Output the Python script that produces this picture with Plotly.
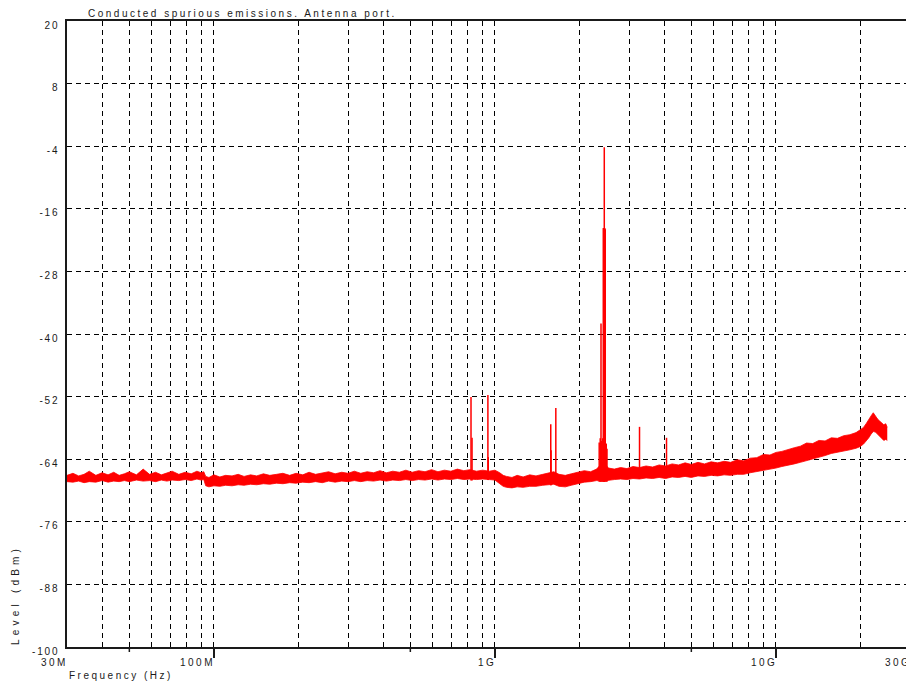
import numpy as np
import plotly.graph_objects as go

# ---------------- data ----------------
chart_title = "Conducted spurious emissions. Antenna port."
x_axis_title = "Frequency (Hz)"
y_axis_title = "Level (dBm)"

# broadband noise floor of the sweep: frequency (MHz), upper and lower edge of the trace (dBm)
base_freq_mhz = [
    30, 31.5, 33, 34.5, 36, 38, 40, 42, 44, 46,
    48, 50, 53, 56, 59, 62, 65, 68, 71, 75,
    79, 83, 87, 90, 92, 93.5, 96, 100, 105, 110,
    116, 122, 128, 135, 142, 150, 158, 167, 176, 186,
    196, 207, 218, 230, 243, 256, 270, 285, 300, 316,
    333, 351, 370, 390, 411, 433, 457, 482, 508, 535,
    564, 595, 627, 661, 697, 735, 775, 815, 860, 905,
    955, 1000, 1040, 1070, 1100, 1150, 1200, 1260, 1330, 1400,
    1480, 1560, 1620, 1690, 1780, 1870, 1970, 2080, 2190, 2300,
    2420, 2540, 2660, 2800, 2950, 3100, 3270, 3450, 3640, 3840,
    4050, 4270, 4500, 4750, 5000, 5280, 5570, 5880, 6200, 6540,
    6900, 7280, 7680, 8100, 8550, 9020, 9520, 10000, 10500, 11050,
    11620, 12220, 12850, 13520, 14220, 14960, 15740, 16560, 17420, 18330,
    19280, 19900, 20500, 21000, 21400, 21800, 22200, 22600, 23000, 23400,
    23800, 24200, 24600, 24900,
]
base_upper_dbm = [
    -67.1, -66.7, -67.2, -66.9, -66.3, -67.1, -66.6, -67.0, -66.5, -67.1,
    -66.8, -66.4, -67.0, -65.9, -66.9, -66.5, -67.0, -66.6, -66.3, -66.9,
    -66.5, -66.8, -66.3, -66.6, -66.4, -67.3, -67.5, -67.0, -67.4, -67.1,
    -67.2, -66.9, -67.3, -67.0, -67.2, -66.8, -67.1, -66.9, -66.7, -67.1,
    -66.7, -67.0, -66.5, -66.9, -66.6, -66.4, -66.8, -66.5, -66.7, -66.3,
    -66.7, -66.4, -66.6, -66.2, -66.6, -66.3, -66.5, -66.1, -66.5, -66.2,
    -66.4, -66.0, -66.4, -66.1, -66.3, -65.9, -66.2, -66.0, -66.3, -66.1,
    -66.3, -66.1, -66.6, -67.1, -67.3, -67.5, -67.1, -67.4, -67.0, -67.2,
    -66.9, -66.6, -66.4, -66.9, -67.1, -66.8, -66.5, -66.2, -66.4, -65.9,
    -64.6, -65.7, -65.9, -65.6, -65.8, -65.4, -65.6, -65.3, -65.5, -65.1,
    -65.3, -64.9, -65.1, -64.7, -65.0, -64.6, -64.9, -64.5, -64.7, -64.4,
    -64.6, -64.1, -64.3, -63.8, -63.7, -63.1, -63.2, -62.7, -62.5, -62.1,
    -61.8, -61.5, -60.9, -61.0, -60.4, -60.5, -59.9, -60.0, -59.5, -59.3,
    -58.9, -58.4, -57.9, -57.1, -56.3, -55.7, -55.1, -55.8, -56.3, -56.7,
    -57.0, -57.4, -57.2, -57.9,
]
base_lower_dbm = [
    -68.3, -68.4, -68.2, -68.5, -68.3, -68.4, -68.1, -68.4, -68.2, -68.3,
    -68.1, -68.3, -68.0, -68.2, -68.1, -68.3, -68.0, -68.2, -68.0, -68.1,
    -67.9, -68.1, -67.8, -68.0, -67.9, -69.1, -69.3, -69.1, -69.2, -69.0,
    -69.1, -68.9, -69.0, -68.8, -68.9, -68.7, -68.8, -68.6, -68.7, -68.5,
    -68.6, -68.4, -68.5, -68.3, -68.5, -68.2, -68.4, -68.2, -68.3, -68.1,
    -68.3, -68.1, -68.2, -68.0, -68.2, -68.0, -68.1, -67.9, -68.1, -67.9,
    -68.0, -67.8, -68.0, -67.8, -67.9, -67.7, -67.9, -67.8, -67.9, -67.8,
    -67.9, -68.0, -68.7, -69.2, -69.4, -69.5, -69.3, -69.4, -69.2, -69.2,
    -69.0, -68.9, -68.8, -69.2, -69.3, -69.0, -68.7, -68.4, -68.3, -68.1,
    -68.2, -68.0, -67.9, -67.8, -67.9, -67.7, -67.8, -67.6, -67.7, -67.5,
    -67.7, -67.4, -67.5, -67.3, -67.5, -67.2, -67.3, -67.1, -67.2, -67.0,
    -67.1, -66.9, -66.9, -66.6, -66.4, -66.1, -65.9, -65.7, -65.4, -65.2,
    -64.9, -64.6, -64.3, -64.0, -63.6, -63.3, -62.9, -62.7, -62.4, -62.2,
    -61.9, -61.6, -61.1, -60.5, -59.9, -59.2, -58.7, -58.8, -59.2, -59.6,
    -60.0, -60.4, -60.2, -60.4,
]

# discrete emissions (spurs / carrier): frequency (MHz), floor level and peak level (dBm)
spur_freq_mhz = [822, 829, 944, 947, 1580, 1584, 1647,
                 2350, 2370, 2385, 2395, 2420, 2430, 2440, 2450, 2460, 2470, 2490, 2505,
                 3270, 4080]
spur_floor_dbm = [-68.1, -68.1, -68.0, -68.0, -69.0, -69.0, -68.9,
                  -68.3, -68.3, -68.3, -68.3, -68.3, -68.3, -68.3, -68.3, -68.3, -68.3, -68.3, -68.3,
                  -67.8, -67.4]
spur_peak_dbm = [-52.1, -59.9, -51.7, -63.6, -57.3, -62.3, -54.2,
                 -60.8, -60.0, -38.0, -60.5, -60.0, -19.7, -19.7, -4.2, -19.7, -19.9, -61.0, -62.0,
                 -57.8, -59.9]

# axes
x_range_mhz = [30, 30000]
x_label_mhz = [30, 100, 1000, 10000, 30000]
x_label_text = ["30M", "100M", "1G", "10G", "30G"]
x_major_mhz = [100, 1000, 10000]
x_half_decade_mhz = [50, 500, 5000]
x_grid_mhz = [40, 50, 60, 70, 80, 90,
              200, 300, 400, 500, 600, 700, 800, 900,
              2000, 3000, 4000, 5000, 6000, 7000, 8000, 9000,
              20000]
y_range_dbm = [-100, 20]
y_ticks_dbm = [20, 8, -4, -16, -28, -40, -52, -64, -76, -88, -100]

# ---------------- styling ----------------
RED = "#ff0000"
INK = "#1a1a1a"
FONT = "Liberation Sans, Arial, sans-serif"
# the page body has a default 8px margin, so the figure is sized to fit the window
PAGE_OFFSET = 8
WIN_W, WIN_H = 914, 681
PLOT_L, PLOT_T, PLOT_R, PLOT_B = 67, 21, 910, 647


def spaced(text, ls):
    return f'<span style="letter-spacing:{ls}px">{text}</span>'


MHZ = 1e6
bx = [f * MHZ for f in base_freq_mhz]

fig = go.Figure()
fig.add_trace(go.Scatter(x=bx, y=base_lower_dbm, mode="lines",
                         line=dict(color=RED, width=0.8), hoverinfo="skip", showlegend=False))
fig.add_trace(go.Scatter(x=bx, y=base_upper_dbm, mode="lines", fill="tonexty",
                         fillcolor=RED, line=dict(color=RED, width=0.8),
                         hoverinfo="skip", showlegend=False))

sx, sy = [], []
for f, lo, hi in zip(spur_freq_mhz, spur_floor_dbm, spur_peak_dbm):
    sx += [f * MHZ, f * MHZ, None]
    sy += [lo, hi, None]
fig.add_trace(go.Scatter(x=sx, y=sy, mode="lines", line=dict(color=RED, width=1.5),
                         hoverinfo="skip", showlegend=False, connectgaps=False))

grid = dict(gridcolor="#000000", gridwidth=1, griddash="5px,4px")

fig.update_xaxes(
    type="log",
    range=[np.log10(x_range_mhz[0] * MHZ), np.log10(x_range_mhz[1] * MHZ)],
    tickvals=[f * MHZ for f in x_major_mhz],
    showticklabels=False,
    ticks="outside", ticklen=9, tickwidth=1.5, tickcolor=INK,
    showgrid=True, **grid,
    minor=dict(tickvals=[f * MHZ for f in x_grid_mhz], ticks="", showgrid=True, **grid),
    showline=True, linecolor=INK, linewidth=1.5, mirror=True,
    zeroline=False,
)
fig.update_yaxes(
    range=y_range_dbm,
    tickvals=y_ticks_dbm,
    ticktext=[spaced(str(v), 1.8) for v in y_ticks_dbm],
    tickfont=dict(family=FONT, size=10, color=INK),
    ticks="", ticklabelshift=4, ticklabelstandoff=4,
    showgrid=True, **grid,
    showline=True, linecolor=INK, linewidth=1.5, mirror=True,
    zeroline=False,
)

plot_h = PLOT_B - PLOT_T
shapes = []
for f in x_half_decade_mhz:
    shapes.append(dict(type="line", xref="x", yref="paper", x0=f * MHZ, x1=f * MHZ,
                       y0=0, y1=-5 / plot_h, line=dict(color=INK, width=1.5)))

annotations = [
    dict(text=spaced(chart_title, 2.5), xref="paper", yref="paper", x=0, y=1,
         xanchor="left", yanchor="bottom", xshift=19, yshift=0, showarrow=False,
         font=dict(family=FONT, size=10, color=INK)),
    dict(text=spaced(x_axis_title, 2.5), xref="paper", yref="paper", x=0, y=0,
         xanchor="left", yanchor="top", xshift=0, yshift=-21, showarrow=False,
         font=dict(family=FONT, size=10, color=INK)),
    dict(text=spaced(y_axis_title, 4.2), xref="paper", yref="paper", x=0, y=0,
         xanchor="center", yanchor="bottom", xshift=-52, textangle=-90, showarrow=False,
         font=dict(family=FONT, size=10, color=INK)),
]
for f, t in zip(x_label_mhz, x_label_text):
    annotations.append(dict(text=spaced(t, 2.5), xref="x", yref="paper",
                            x=np.log10(f * MHZ), y=0, xanchor="right", yanchor="top",
                            xshift=3, yshift=-8, showarrow=False,
                            font=dict(family=FONT, size=10, color=INK)))

fig.update_layout(
    width=WIN_W - PAGE_OFFSET, height=WIN_H - PAGE_OFFSET,
    margin=dict(l=PLOT_L - PAGE_OFFSET, r=WIN_W - PLOT_R, t=PLOT_T - PAGE_OFFSET,
                b=WIN_H - PLOT_B, pad=0, autoexpand=False),
    paper_bgcolor="white", plot_bgcolor="white",
    showlegend=False,
    shapes=shapes, annotations=annotations,
    font=dict(family=FONT, size=10, color=INK),
)

fig.write_html("out.html")
